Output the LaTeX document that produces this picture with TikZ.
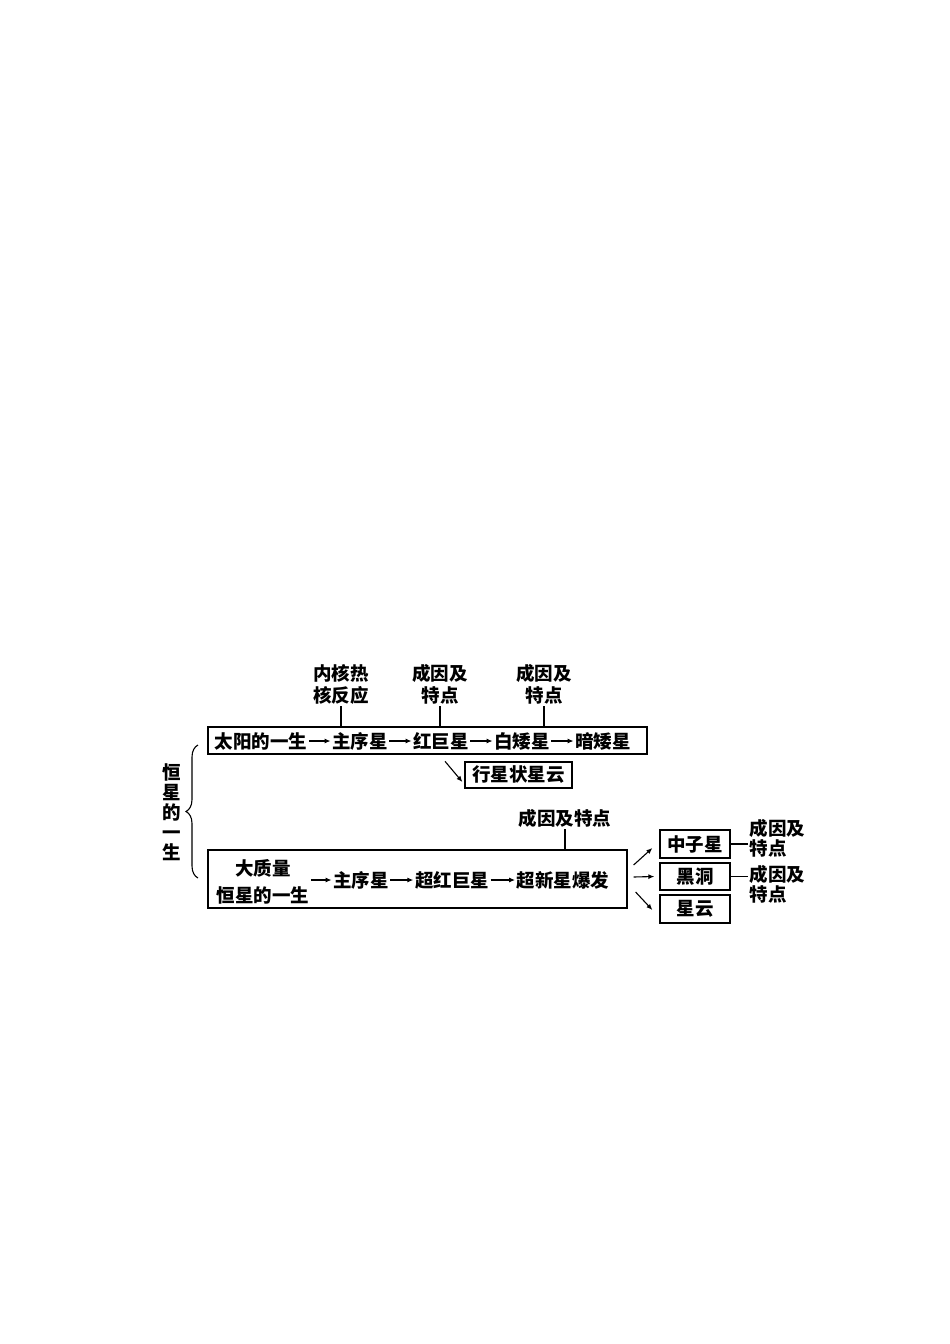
\documentclass[tikz,border=0pt]{standalone}
\usepackage{fontspec}
\setmainfont{Noto Sans CJK SC}
\usetikzlibrary{arrows,arrows.meta,positioning,calc,decorations.pathreplacing}

\begin{document}
\begin{tikzpicture}[x=1pt,y=-1pt,>={Latex[length=6pt,width=5pt]},
		txt/.style={inner sep=1.5pt,font=\fontsize{18.5}{22}\selectfont\bfseries},
		framebox/.style={draw,line width=1.2pt},
		link/.style={line width=1.1pt}]
	\useasboundingbox (0,0) rectangle (950,1344);
	% the sun
	\node[framebox,minimum width=439pt,minimum height=27pt] (sunbox) at (427.5,740.5) {};
	\node[txt] (sun) at (261,741) {太阳的一生};
	\node[txt] (ms1) at (360,741) {主序星};
	\node[txt] (rg) at (441,741) {红巨星};
	\node[txt] (wd) at (522,741) {白矮星};
	\node[txt] (bd) at (603,741) {暗矮星};
	\draw[link,->] (sun) -- (ms1);
	\draw[link,->] (ms1) -- (rg);
	\draw[link,->] (rg) -- (wd);
	\draw[link,->] (wd) -- (bd);
	\node[txt,align=center,anchor=south] (fusion) at (341,706) {内核热\\核反应};
	\node[txt,align=center,anchor=south] (rgwhy) at (440,706) {成因及\\特点};
	\node[txt,align=center,anchor=south] (wdwhy) at (544,706) {成因及\\特点};
	\draw[link] (fusion.south) -- (fusion.south |- sunbox.north);
	\draw[link] (rgwhy.south) -- (rgwhy.south |- sunbox.north);
	\draw[link] (wdwhy.south) -- (wdwhy.south |- sunbox.north);
	\node[txt,framebox,minimum width=107pt,minimum height=26pt] (pn) at (518.5,775) {行星状星云};
	\draw[link,->] ($(rg.south)+(4,10)$) -- ($(pn.west)+(-2,7)$);
	% left brace
	\draw[link,decorate,decoration={brace,amplitude=12pt}] (198,878) -- (198,745);
	\node[txt,align=center,font=\fontsize{18.5}{20}\selectfont\bfseries] (star) at (172,812) {恒\\星\\的\\一\\生};
	% massive star
	\node[framebox,minimum width=419pt,minimum height=58pt] (bigbox) at (417.5,879) {};
	\node[txt] (mass) at (263,868) {大质量};
	\node[txt] (life) at (263,895) {恒星的一生};
	\node[txt] (ms2) at (361,880) {主序星};
	\node[txt] (srg) at (452,880) {超红巨星};
	\node[txt] (sn) at (563,880) {超新星爆发};
	\draw[link,->] (life.east |- ms2) -- (ms2);
	\draw[link,->] (ms2) -- (srg);
	\draw[link,->] (srg) -- (sn);
	\node[txt,anchor=south] (snwhy) at (565,829) {成因及特点};
	\draw[link] (snwhy.south) -- (snwhy.south |- bigbox.north);
	% end states
	\node[txt,framebox,minimum width=70pt,minimum height=28pt] (ns) at (695,844) {中子星};
	\node[txt,framebox,minimum width=70pt,minimum height=27pt] (bh) at (695,876.5) {黑洞};
	\node[txt,framebox,minimum width=70pt,minimum height=28pt] (neb) at (695,909) {星云};
	\draw[link,->] ($(bigbox.east)+(6,-14)$) -- ($(ns.west)+(-7,4)$);
	\draw[link,->] ($(bigbox.east)+(6,-2)$) -- ($(bh.west)+(-5,0)$);
	\draw[link,->] ($(bigbox.east)+(8,13)$) -- ($(neb.west)+(-7,1)$);
	\node[txt,align=left,anchor=west,font=\fontsize{18.5}{20}\selectfont\bfseries] (nswhy) at (748,838) {成因及\\特点};
	\node[txt,align=left,anchor=west,font=\fontsize{18.5}{20}\selectfont\bfseries] (bhwhy) at (748,884) {成因及\\特点};
	\draw[link] (ns.east) -- (nswhy.west |- ns.east);
	\draw[link] (bh.east) -- (bhwhy.west |- bh.east);
\end{tikzpicture}
\end{document}
